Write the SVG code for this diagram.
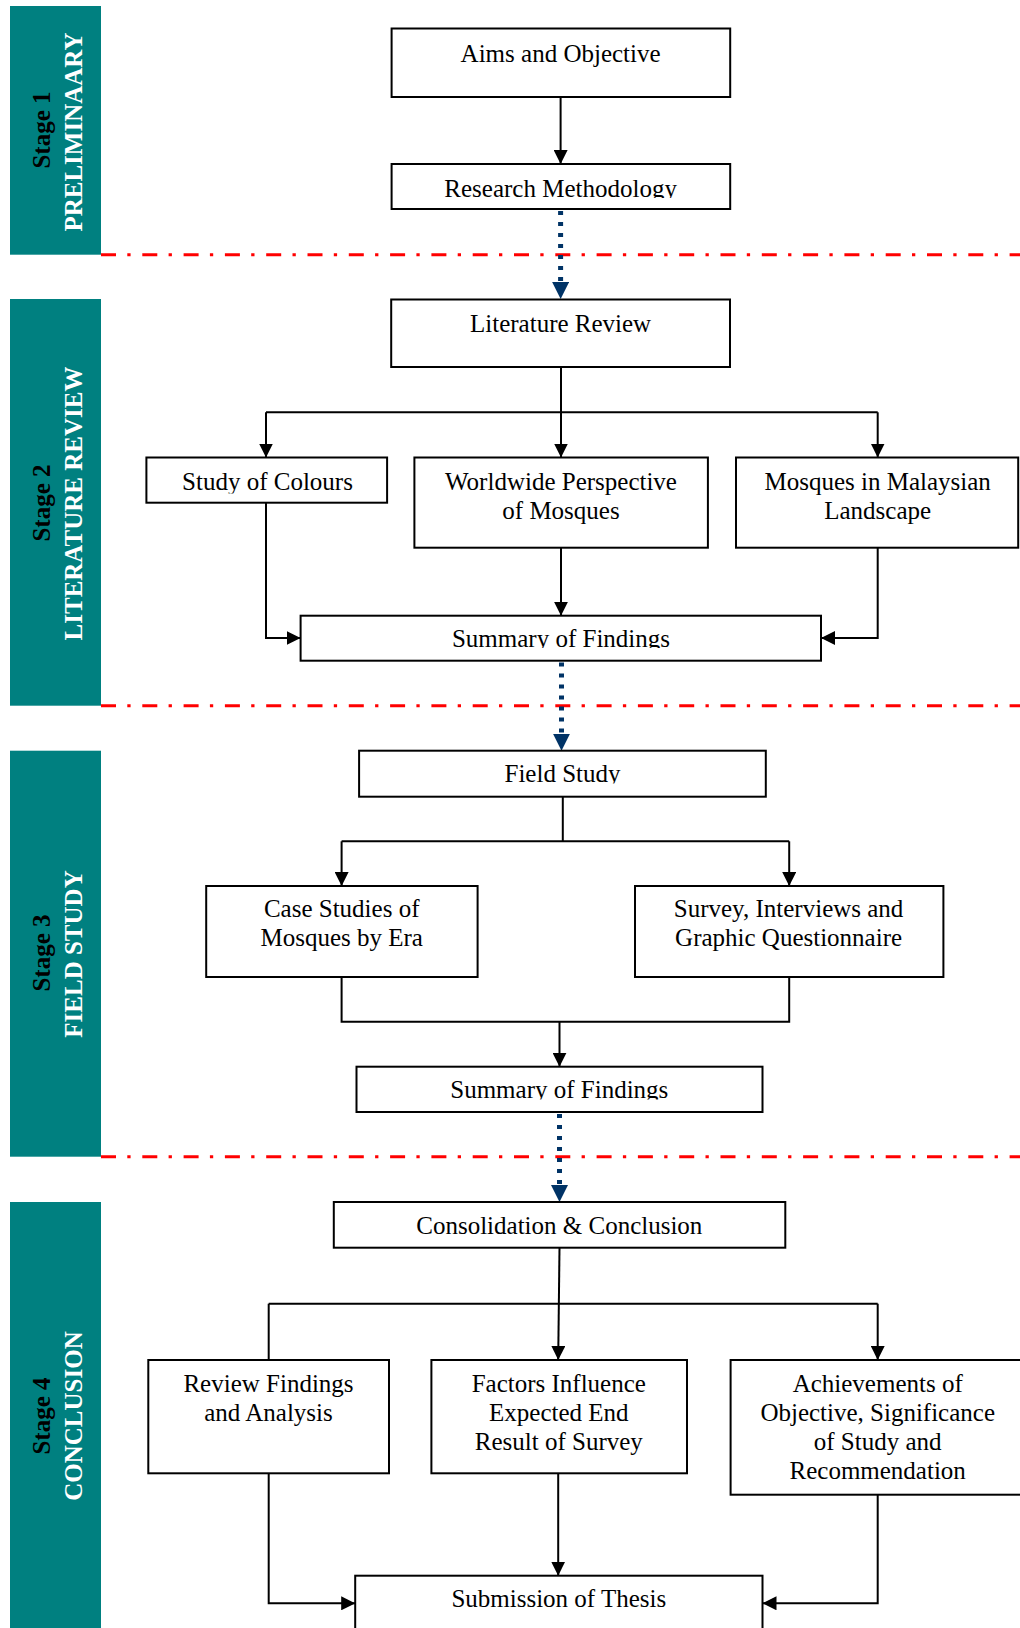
<svg xmlns="http://www.w3.org/2000/svg" width="1020" height="1628" viewBox="0 0 1020 1628">
<style>
.band{fill:#008080}
.stg{font-family:"Liberation Serif","Times New Roman",serif;font-weight:bold;font-size:25px;text-anchor:middle}
.stg .s{fill:#000}
.lbl{fill:#fff}
.box{fill:#fff;stroke:#000;stroke-width:2}
.t{font-family:"Liberation Serif","Times New Roman",serif;font-size:25px;text-anchor:middle;fill:#000}
.c{fill:none;stroke:#000;stroke-width:2}
.ca{fill:none;stroke:#000;stroke-width:2;marker-end:url(#ah)}
.dot{fill:none;stroke:#003366;stroke-width:5;stroke-dasharray:4 7;marker-end:url(#bh)}
.red{fill:none;stroke:#ff0000;stroke-width:3;stroke-dasharray:15 11.3 3.3 11.7}
</style>
<defs>
<marker id="ah" markerUnits="userSpaceOnUse" markerWidth="14" markerHeight="14" refX="14" refY="7" orient="auto"><path d="M0,0 L14,7 L0,14 z" fill="#000"/></marker>
<marker id="bh" markerUnits="userSpaceOnUse" markerWidth="17" markerHeight="17" refX="17" refY="8.5" orient="auto"><path d="M0,0 L17,8.5 L0,17 z" fill="#003366"/></marker>
<clipPath id="cl-method" clipPathUnits="userSpaceOnUse"><rect x="391" y="164" width="340" height="34"/></clipPath>
<clipPath id="cl-colours" clipPathUnits="userSpaceOnUse"><rect x="146" y="457" width="242" height="36.5"/></clipPath>
<clipPath id="cl-sum1" clipPathUnits="userSpaceOnUse"><rect x="300" y="615" width="522" height="33"/></clipPath>
<clipPath id="cl-field" clipPathUnits="userSpaceOnUse"><rect x="359" y="750" width="407" height="33.5"/></clipPath>
<clipPath id="cl-sum2" clipPathUnits="userSpaceOnUse"><rect x="356" y="1066" width="407" height="33.5"/></clipPath>
</defs>
<rect width="1020" height="1628" fill="#fff"/>

<g id="stage1">
<rect class="band" x="10" y="6" width="91" height="248.7"/>
<text class="stg" transform="translate(50,130) rotate(-90)"><tspan class="s">Stage 1</tspan></text>
<text class="stg lbl" transform="translate(81.5,132) rotate(-90)">PRELIMINAARY</text>
</g>
<g id="stage2">
<rect class="band" x="10" y="299" width="91" height="406.7"/>
<text class="stg" transform="translate(50,503) rotate(-90)"><tspan class="s">Stage 2</tspan></text>
<text class="stg lbl" transform="translate(81.5,503.5) rotate(-90)">LITERATURE REVIEW</text>
</g>
<g id="stage3">
<rect class="band" x="10" y="750.7" width="91" height="406"/>
<text class="stg" transform="translate(50,953) rotate(-90)"><tspan class="s">Stage 3</tspan></text>
<text class="stg lbl" transform="translate(81.5,954) rotate(-90)">FIELD STUDY</text>
</g>
<g id="stage4">
<rect class="band" x="10" y="1202" width="91" height="426"/>
<text class="stg" transform="translate(50,1416) rotate(-90)"><tspan class="s">Stage 4</tspan></text>
<text class="stg lbl" transform="translate(81.5,1416) rotate(-90)">CONCLUSION</text>
</g>

<g id="dividers">
<line class="red" x1="101" y1="254.7" x2="1020" y2="254.7"/>
<line class="red" x1="101" y1="705.7" x2="1020" y2="705.7"/>
<line class="red" x1="101" y1="1156.7" x2="1020" y2="1156.7"/>
</g>

<g id="connectors">
<line class="ca" x1="560.6" y1="97" x2="560.6" y2="164"/>
<line class="dot" x1="560.6" y1="211" x2="560.6" y2="299"/>
<line class="c" x1="561" y1="367" x2="561" y2="412.3"/>
<line class="c" x1="266" y1="412.3" x2="877.7" y2="412.3"/>
<line class="ca" x1="266" y1="412.3" x2="266" y2="457.5"/>
<line class="ca" x1="561" y1="412.3" x2="561" y2="457.5"/>
<line class="ca" x1="877.7" y1="412.3" x2="877.7" y2="457.5"/>
<polyline class="ca" points="266,502.7 266,638 300.6,638"/>
<line class="ca" x1="561" y1="547.7" x2="561" y2="615.7"/>
<polyline class="ca" points="877.7,547.7 877.7,638 821,638"/>
<line class="dot" x1="561.5" y1="662.5" x2="561.5" y2="750.7"/>
<line class="c" x1="562.8" y1="796.7" x2="562.8" y2="841.3"/>
<line class="c" x1="341.6" y1="841.3" x2="789.2" y2="841.3"/>
<line class="ca" x1="341.6" y1="841.3" x2="341.6" y2="886"/>
<line class="ca" x1="789.2" y1="841.3" x2="789.2" y2="886"/>
<polyline class="c" points="341.6,977 341.6,1021.7 789.2,1021.7 789.2,977"/>
<line class="ca" x1="559.5" y1="1021.7" x2="559.5" y2="1066.7"/>
<line class="dot" x1="559.5" y1="1114" x2="559.5" y2="1202"/>
<line class="ca" x1="559.5" y1="1247.7" x2="558.2" y2="1360"/>
<line class="c" x1="268.7" y1="1303.7" x2="877.7" y2="1303.7"/>
<line class="c" x1="268.7" y1="1303.7" x2="268.7" y2="1360"/>
<line class="ca" x1="877.7" y1="1303.7" x2="877.7" y2="1360"/>
<polyline class="ca" points="268.7,1473.3 268.7,1603.3 355.2,1603.3"/>
<line class="ca" x1="558.2" y1="1473.3" x2="558.2" y2="1575.7"/>
<polyline class="ca" points="877.7,1494.7 877.7,1603.3 762.5,1603.3"/>
</g>

<g id="n-aims"><rect class="box" x="391.6" y="28.5" width="338.6" height="68.5"/><text class="t" x="560.6" y="62">Aims and Objective</text></g>
<g id="n-method"><rect class="box" x="391.6" y="164" width="338.6" height="45"/><text class="t" x="560.6" y="197" clip-path="url(#cl-method)">Research Methodology</text></g>
<g id="n-lit"><rect class="box" x="391.2" y="299.5" width="338.8" height="67.5"/><text class="t" x="560.6" y="332">Literature Review</text></g>
<g id="n-colours"><rect class="box" x="146.4" y="457.5" width="240.7" height="45.2"/><text class="t" x="267.5" y="490" clip-path="url(#cl-colours)">Study of Colours</text></g>
<g id="n-world"><rect class="box" x="414.4" y="457.5" width="293.5" height="90.2"/><text class="t" x="561" y="490">Worldwide Perspective</text><text class="t" x="561" y="519">of Mosques</text></g>
<g id="n-malaysia"><rect class="box" x="736" y="457.5" width="282.2" height="90.2"/><text class="t" x="877.7" y="490">Mosques in Malaysian</text><text class="t" x="877.7" y="519">Landscape</text></g>
<g id="n-summary1"><rect class="box" x="300.6" y="615.7" width="520.4" height="45"/><text class="t" x="561" y="647" clip-path="url(#cl-sum1)">Summary of Findings</text></g>
<g id="n-field"><rect class="box" x="359.1" y="750.7" width="406.7" height="46"/><text class="t" x="562.5" y="782" clip-path="url(#cl-field)">Field Study</text></g>
<g id="n-case"><rect class="box" x="206.2" y="886" width="271.4" height="91"/><text class="t" x="341.7" y="917">Case Studies of</text><text class="t" x="341.7" y="946">Mosques by Era</text></g>
<g id="n-survey"><rect class="box" x="635" y="886" width="308.4" height="91"/><text class="t" x="788.6" y="917">Survey, Interviews and</text><text class="t" x="788.6" y="946">Graphic Questionnaire</text></g>
<g id="n-summary2"><rect class="box" x="356.5" y="1066.7" width="406" height="45.3"/><text class="t" x="559.3" y="1098" clip-path="url(#cl-sum2)">Summary of Findings</text></g>
<g id="n-consol"><rect class="box" x="333.8" y="1202" width="451.5" height="45.7"/><text class="t" x="559.3" y="1234">Consolidation &amp; Conclusion</text></g>
<g id="n-review"><rect class="box" x="148.3" y="1360" width="240.7" height="113.3"/><text class="t" x="268.5" y="1392">Review Findings</text><text class="t" x="268.5" y="1421">and Analysis</text></g>
<g id="n-factors"><rect class="box" x="431.4" y="1360" width="255.6" height="113.3"/><text class="t" x="558.8" y="1392">Factors Influence</text><text class="t" x="558.8" y="1421">Expected End</text><text class="t" x="558.8" y="1450">Result of Survey</text></g>
<g id="n-achieve"><rect class="box" x="730.6" y="1360" width="300" height="134.7"/><text class="t" x="877.7" y="1392">Achievements of</text><text class="t" x="877.7" y="1421">Objective, Significance</text><text class="t" x="877.7" y="1450">of Study and</text><text class="t" x="877.7" y="1479">Recommendation</text></g>
<g id="n-submit"><rect class="box" x="355.2" y="1575.7" width="407.3" height="70"/><text class="t" x="558.8" y="1607">Submission of Thesis</text></g>
</svg>
